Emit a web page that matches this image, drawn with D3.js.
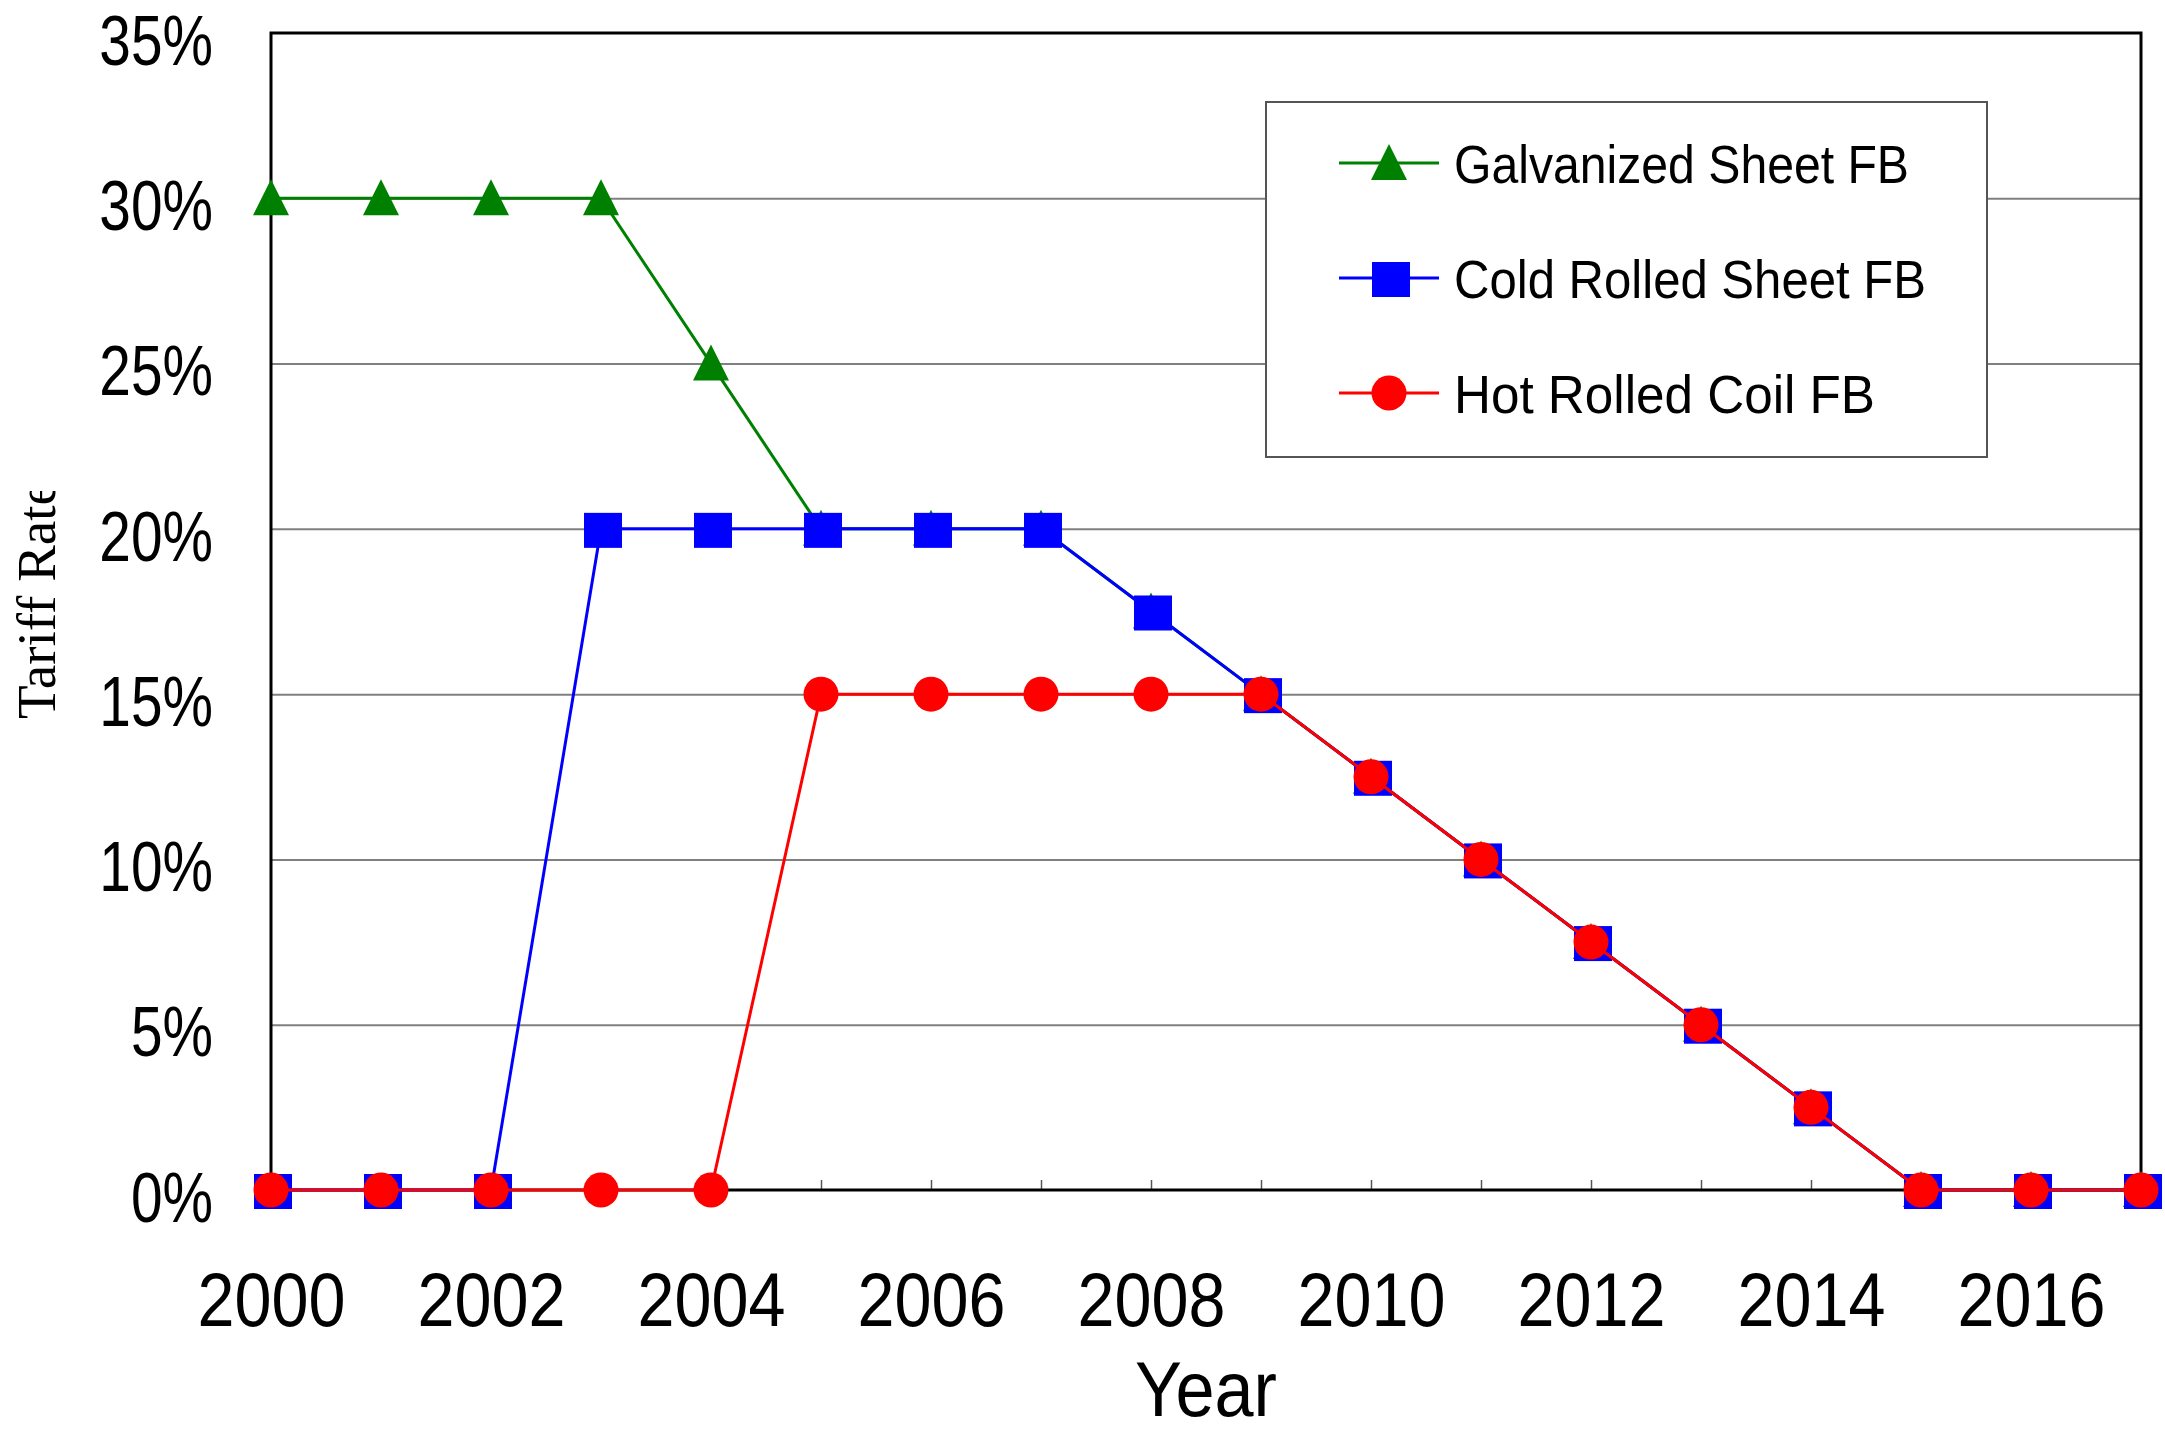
<!DOCTYPE html>
<html>
<head>
<meta charset="utf-8">
<script src="https://cdn.jsdelivr.net/npm/d3@7"></script>
<style>
  body { margin: 0; background: #fff; }
  svg { display: block; }
</style>
</head>
<body>
<script>
// data
var years = [2000, 2001, 2002, 2003, 2004, 2005, 2006, 2007, 2008,
             2009, 2010, 2011, 2012, 2013, 2014, 2015, 2016, 2017];
var galvanized = [30, 30, 30, 30, 25, 20, 20, 20, 17.5, 15, 12.5, 10, 7.5, 5, 2.5, 0, 0, 0];
var coldRolled = [0, 0, 0, 20, 20, 20, 20, 20, 17.5, 15, 12.5, 10, 7.5, 5, 2.5, 0, 0, 0];
var hotRolled  = [0, 0, 0, 0, 0, 15, 15, 15, 15, 15, 12.5, 10, 7.5, 5, 2.5, 0, 0, 0];
var seriesNames = ["Galvanized Sheet FB", "Cold Rolled Sheet FB", "Hot Rolled Coil FB"];
var yTicks = [0, 5, 10, 15, 20, 25, 30, 35];
var xLabelYears = [2000, 2002, 2004, 2006, 2008, 2010, 2012, 2014, 2016];

// set the dimensions and margins of the graph
var margin = {top: 33, right: 24, bottom: 242, left: 271},
    width = 2165 - margin.left - margin.right,
    height = 1432 - margin.top - margin.bottom;

var sans = "'Liberation Sans', Arial, sans-serif";

// squeeze a text horizontally, the reference uses a condensed face
function squeeze(sel, k) {
  sel.each(function() {
    var w = this.getComputedTextLength();
    d3.select(this)
        .attr("textLength", w * k)
        .attr("lengthAdjust", "spacingAndGlyphs");
  });
}

var x = d3.scaleLinear().domain([2000, 2017]).range([0, width]);
var y = d3.scaleLinear().domain([0, 35]).range([height, 0]);

var svg = d3.select("body").append("svg")
    .attr("width", 2165)
    .attr("height", 1432);

var g = svg.append("g")
    .attr("transform", "translate(" + margin.left + "," + margin.top + ")");

// gridlines
g.append("g")
    .call(d3.axisLeft(y).tickValues(yTicks.slice(1, -1)).tickSize(-width).tickFormat(""))
    .call(function(a) { a.select(".domain").remove(); })
    .selectAll("line")
    .attr("stroke", "#808080")
    .attr("stroke-width", 2);

// small inward ticks on the x axis
g.append("g")
    .attr("transform", "translate(0," + height + ")")
    .call(d3.axisBottom(x).tickValues(years).tickSize(-10).tickFormat(""))
    .call(function(a) { a.select(".domain").remove(); })
    .selectAll("line")
    .attr("stroke", "#555")
    .attr("stroke-width", 1.5);

// plot frame
g.append("rect")
    .attr("width", width)
    .attr("height", height)
    .attr("fill", "none")
    .attr("stroke", "#000")
    .attr("stroke-width", 3);

// y tick labels
g.append("g")
    .call(d3.axisLeft(y).tickValues(yTicks).tickSize(0).tickPadding(58)
        .tickFormat(function(d) { return d + "%"; }))
    .call(function(a) { a.select(".domain").remove(); })
    .selectAll("text")
    .attr("font-family", sans)
    .attr("font-size", 71)
    .attr("fill", "#000")
    .attr("dy", "0.44em")
    .call(squeeze, 0.8);

// x tick labels
g.append("g")
    .attr("transform", "translate(0," + height + ")")
    .call(d3.axisBottom(x).tickValues(xLabelYears).tickSize(0).tickPadding(82)
        .tickFormat(d3.format("d")))
    .call(function(a) { a.select(".domain").remove(); })
    .selectAll("text")
    .attr("font-family", sans)
    .attr("font-size", 76)
    .attr("fill", "#000")
    .call(squeeze, 0.875);

// axis titles
svg.append("text")
    .attr("x", margin.left + width / 2)
    .attr("y", 1416)
    .attr("text-anchor", "middle")
    .attr("font-family", sans)
    .attr("font-size", 78)
    .text("Year")
    .call(squeeze, 0.9);

svg.append("clipPath").attr("id", "ytitle-clip")
  .append("rect").attr("x", 0).attr("y", 491).attr("width", 100).attr("height", 400);

svg.append("g")
    .attr("clip-path", "url(#ytitle-clip)")
  .append("text")
    .attr("transform", "translate(55,719) rotate(-90)")
    .attr("font-family", "'Liberation Serif', 'Times New Roman', serif")
    .attr("font-size", 55)
    .text("Tariff Rate");

// series
var series = [
  {name: seriesNames[0], values: galvanized, color: "#008000", shape: "triangle"},
  {name: seriesNames[1], values: coldRolled, color: "#0000ff", shape: "square"},
  {name: seriesNames[2], values: hotRolled,  color: "#ff0000", shape: "circle"}
];

var line = d3.line()
    .x(function(d, i) { return x(years[i]); })
    .y(function(d) { return y(d); });

function drawMarker(sel, shape, color) {
  if (shape == "triangle") {
    sel.append("path").attr("d", "M0,-19L18,17L-18,17Z").attr("fill", color);
  } else if (shape == "square") {
    sel.append("rect").attr("x", -17).attr("y", -16).attr("width", 38).attr("height", 35).attr("fill", color);
  } else {
    sel.append("circle").attr("r", 17.5).attr("fill", color);
  }
}

series.forEach(function(s) {
  g.append("path")
      .datum(s.values)
      .attr("fill", "none")
      .attr("stroke", s.color)
      .attr("stroke-width", 3)
      .attr("d", line);

  g.selectAll(null)
      .data(s.values)
      .enter().append("g")
      .attr("transform", function(d, i) { return "translate(" + x(years[i]) + "," + y(d) + ")"; })
      .each(function() { drawMarker(d3.select(this), s.shape, s.color); });
});

// legend
var legend = svg.append("g").attr("transform", "translate(1266,102)");
legend.append("rect")
    .attr("width", 721)
    .attr("height", 355)
    .attr("fill", "#fff")
    .attr("stroke", "#555")
    .attr("stroke-width", 2);

var legendWidths = [455, 472, 421];
series.forEach(function(s, i) {
  var row = legend.append("g").attr("transform", "translate(0," + (61 + i * 115) + ")");
  row.append("line")
      .attr("x1", 73).attr("x2", 173)
      .attr("stroke", s.color).attr("stroke-width", 3);
  drawMarker(row.append("g").attr("transform", "translate(123,0)"), s.shape, s.color);
  row.append("text")
      .attr("x", 188)
      .attr("y", 20)
      .attr("font-family", sans)
      .attr("font-size", 54)
      .attr("textLength", legendWidths[i])
      .attr("lengthAdjust", "spacingAndGlyphs")
      .text(s.name);
});
</script>
</body>
</html>
